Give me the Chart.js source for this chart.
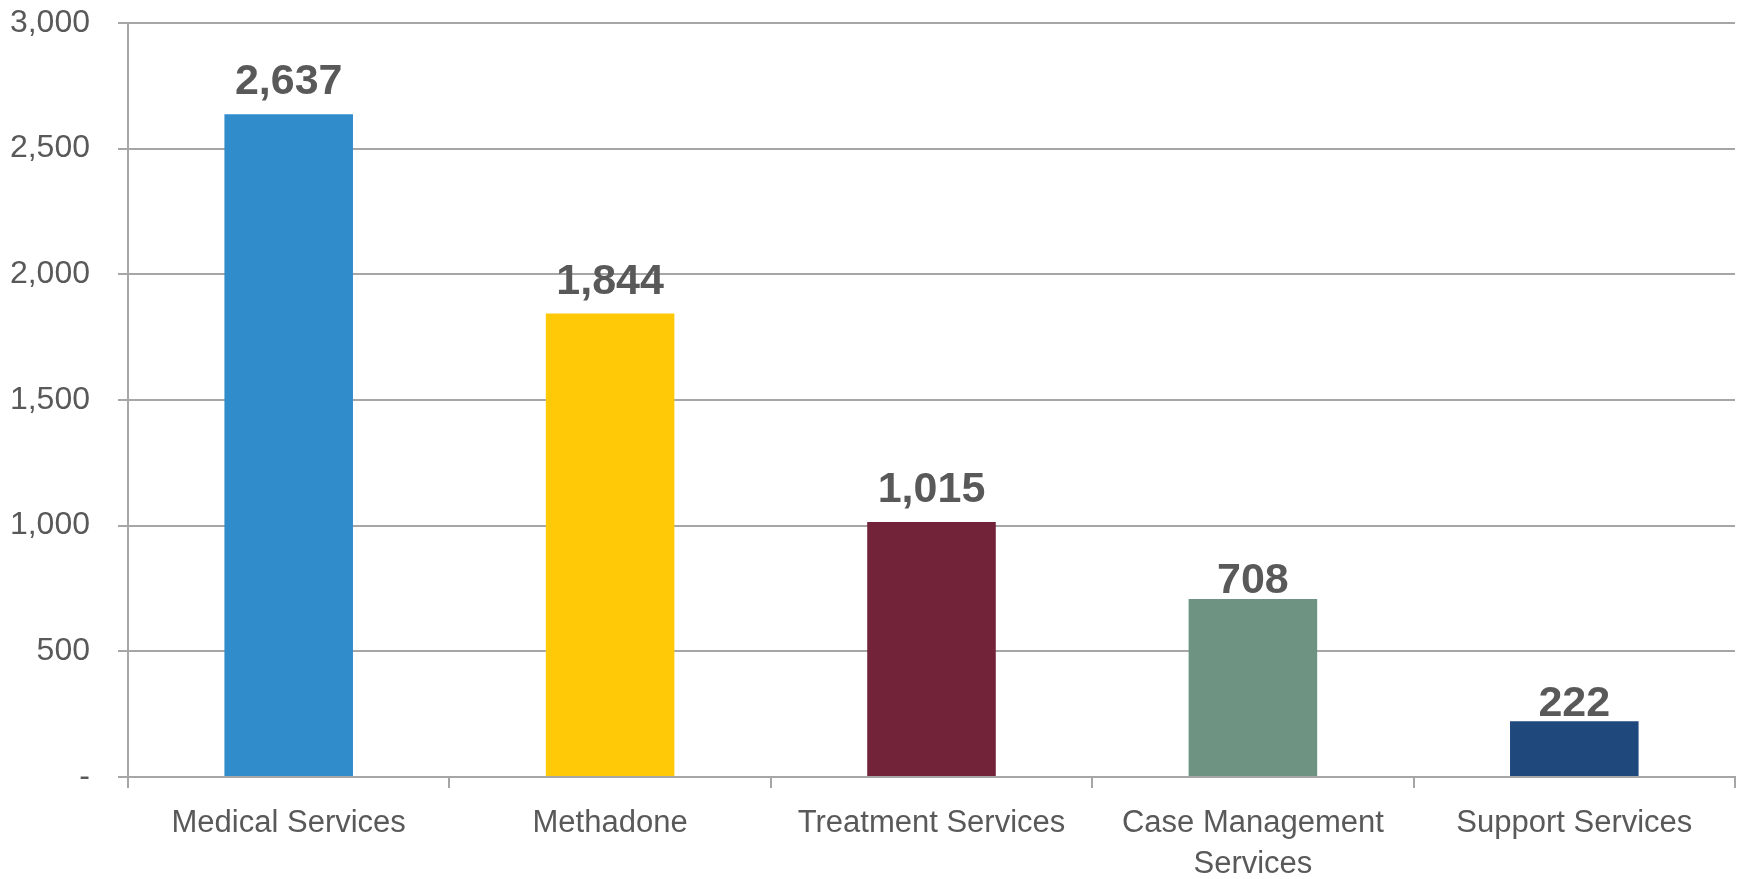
<!DOCTYPE html>
<html lang="en">
<head>
<meta charset="UTF-8" />
<title>Services Chart</title>
<script src="https://cdn.jsdelivr.net/npm/chart.js"></script>
<style>
  html, body {
    margin: 0;
    padding: 0;
    background: #ffffff;
  }
  #wrap {
    width: 1741px;
    height: 879px;
  }
</style>
</head>
<body>
<div id="wrap"><canvas id="servicesChart" width="1741" height="879"></canvas></div>

<script>
const categories = [
  'Medical Services',
  'Methadone',
  'Treatment Services',
  ['Case Management', 'Services'],
  'Support Services'
];
const counts = [2637, 1844, 1015, 708, 222];
const barColors = ['#318CCC', '#FFC907', '#722339', '#6E9382', '#1F497D'];
const yTicks = [0, 500, 1000, 1500, 2000, 2500, 3000];

const textGray = '#595959';
const lineGray = '#A6A6A6';

// draws the value above each bar (Excel puts the short bars' labels a bit closer)
const valueLabels = {
  id: 'valueLabels',
  afterDatasetsDraw(chart, args, opts) {
    const ctx = chart.ctx;
    const meta = chart.getDatasetMeta(0);
    ctx.save();
    ctx.font = opts.font;
    ctx.fillStyle = opts.color;
    ctx.textAlign = 'center';
    ctx.textBaseline = 'alphabetic';
    meta.data.forEach((bar, i) => {
      const v = chart.data.datasets[0].data[i];
      ctx.fillText(v.toLocaleString('en-US'), bar.x, bar.y - opts.gaps[i]);
    });
    ctx.restore();
  }
};

const ctx = document.getElementById('servicesChart').getContext('2d');
new Chart(ctx, {
  type: 'bar',
  data: {
    labels: categories,
    datasets: [{
      data: counts,
      backgroundColor: barColors,
      categoryPercentage: 1.0,
      barPercentage: 0.4
    }]
  },
  options: {
    responsive: false,
    animation: false,
    layout: { padding: { top: 23, right: 6, left: 0, bottom: 0 } },
    plugins: {
      legend: { display: false },
      tooltip: { enabled: false },
      valueLabels: {
        font: 'bold 43px "Liberation Sans", Arial, sans-serif',
        color: textGray,
        gaps: [20, 20, 20, 6, 5]
      }
    },
    scales: {
      x: {
        grid: {
          offset: true,
          drawOnChartArea: false,
          drawTicks: true,
          tickLength: 11,
          color: lineGray,
          lineWidth: 2
        },
        border: { display: true, color: lineGray, width: 2 },
        ticks: {
          color: textGray,
          padding: 15,
          maxRotation: 0,
          font: { family: '"Liberation Sans", Arial, sans-serif', size: 31, lineHeight: 1.32 }
        },
        afterFit(scale) { scale.height = 102; }
      },
      y: {
        min: 0,
        max: 3000,
        afterBuildTicks(scale) {
          scale.ticks = yTicks.map(v => ({ value: v }));
        },
        grid: {
          drawTicks: true,
          tickLength: 10,
          color: lineGray,
          lineWidth: 2
        },
        border: { display: true, color: lineGray, width: 2 },
        ticks: {
          color: textGray,
          padding: 28,
          font: { family: '"Liberation Sans", Arial, sans-serif', size: 32 },
          callback: v => v === 0 ? '-' : v.toLocaleString('en-US')
        },
        afterFit(scale) {
          scale.width = 128;
          scale.paddingTop = 0;
          scale.paddingBottom = 0;
        }
      }
    }
  },
  plugins: [valueLabels]
});
</script>
</body>
</html>
